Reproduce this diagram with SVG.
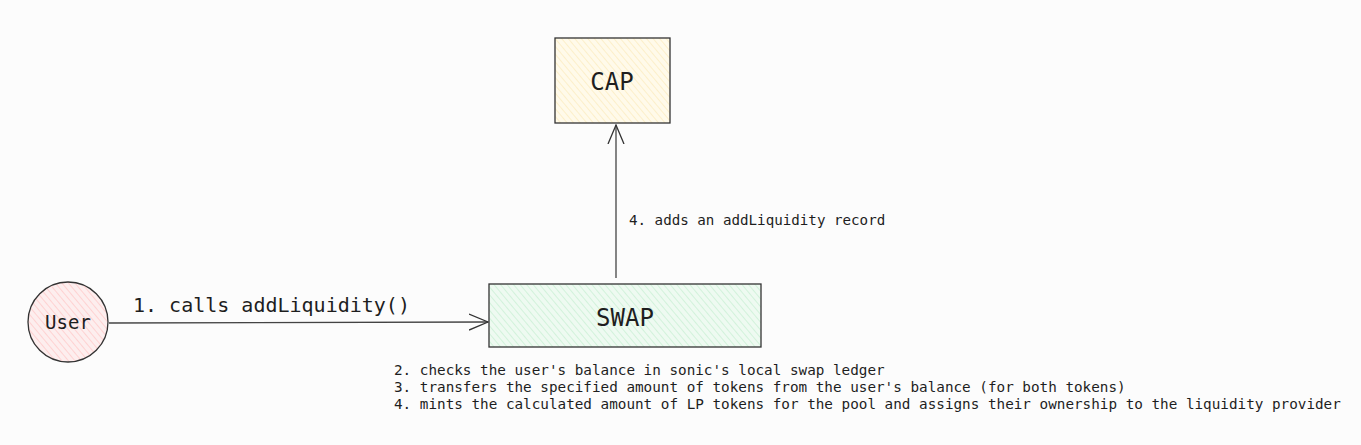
<svg xmlns="http://www.w3.org/2000/svg" width="1361" height="445" viewBox="0 0 1361 445">
<defs>
<pattern id="hPink" patternUnits="userSpaceOnUse" width="5" height="5" patternTransform="rotate(-40)"><rect width="5" height="5" fill="#fdeeee"/><line x1="0" y1="0" x2="0" y2="5" stroke="#ffc9c9" stroke-width="1.5"/></pattern>
<pattern id="hGreen" patternUnits="userSpaceOnUse" width="5" height="5" patternTransform="rotate(-40)"><rect width="5" height="5" fill="#eefaf1"/><line x1="0" y1="0" x2="0" y2="5" stroke="#c9f0d4" stroke-width="1.5"/></pattern>
<pattern id="hYellow" patternUnits="userSpaceOnUse" width="5" height="5" patternTransform="rotate(-40)"><rect width="5" height="5" fill="#fffaea"/><line x1="0" y1="0" x2="0" y2="5" stroke="#fcecc0" stroke-width="1.5"/></pattern>
<marker id="arr" viewBox="0 0 20 20" refX="19" refY="10" markerWidth="20" markerHeight="20" markerUnits="userSpaceOnUse" orient="auto"><path d="M0,2 L19,10 L0,18" fill="none" stroke="#333" stroke-width="1.3"/></marker>
</defs>
<style>
.shape{stroke:#333;stroke-width:1.3}
.lbl{font-family:"DejaVu Sans Mono","Liberation Mono",monospace;fill:#1e1e1e}
.conn{stroke:#444;stroke-width:1.3;fill:none}
</style>
<rect width="1361" height="445" fill="#fcfcfc"/>
<g id="user">
<circle class="shape" cx="68" cy="322" r="40" fill="url(#hPink)"/>
<text class="lbl" x="68" y="329" font-size="19" text-anchor="middle">User</text>
</g>
<g id="swap">
<rect class="shape" x="489" y="284" width="272" height="63" fill="url(#hGreen)"/>
<text class="lbl" x="625" y="326" font-size="24" text-anchor="middle">SWAP</text>
</g>
<g id="cap">
<rect class="shape" x="555" y="38" width="115" height="85" fill="url(#hYellow)"/>
<text class="lbl" x="612" y="90" font-size="24" text-anchor="middle">CAP</text>
</g>
<g id="connectors">
<line class="conn" x1="109" y1="323" x2="488" y2="322" marker-end="url(#arr)"/>
<line class="conn" x1="616" y1="278" x2="616" y2="125" marker-end="url(#arr)"/>
</g>
<g id="labels">
<text class="lbl" x="133" y="312" font-size="20">1. calls addLiquidity()</text>
<text class="lbl" x="629" y="225" font-size="14.2">4. adds an addLiquidity record</text>
<text class="lbl" x="394" y="375" font-size="14.3">2. checks the user's balance in sonic's local swap ledger</text>
<text class="lbl" x="394" y="392" font-size="14.3">3. transfers the specified amount of tokens from the user's balance (for both tokens)</text>
<text class="lbl" x="394" y="409" font-size="14.3">4. mints the calculated amount of LP tokens for the pool and assigns their ownership to the liquidity provider</text>
</g>
</svg>
